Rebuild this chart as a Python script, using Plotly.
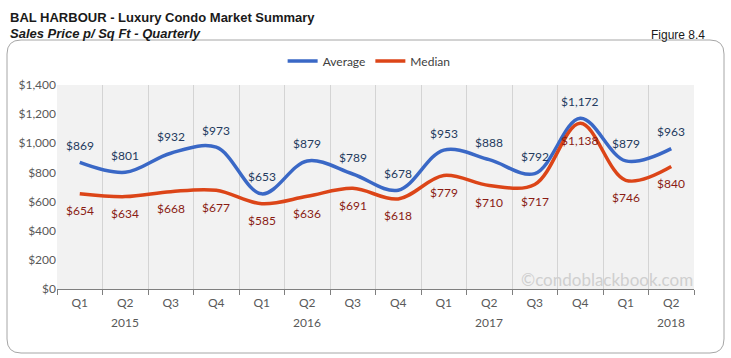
import plotly.graph_objects as go

quarters = ["Q1", "Q2", "Q3", "Q4", "Q1", "Q2", "Q3", "Q4", "Q1", "Q2", "Q3", "Q4", "Q1", "Q2"]
years = ["2015", "2016", "2017", "2018"]
year_pos = [1, 5, 9, 13]
average = [869, 801, 932, 973, 653, 879, 789, 678, 953, 888, 792, 1172, 879, 963]
median = [654, 634, 668, 677, 585, 636, 691, 618, 779, 710, 717, 1138, 746, 840]

W, H = 731, 358
L, R, T, B = 57, 694, 85, 289


def px(x):
    return (x - L) / (R - L)


def py(y):
    return (B - y) / (B - T)


xs = list(range(len(quarters)))
AVG_C = "#3a68c6"
MED_C = "#dc4518"

fig = go.Figure()
fig.add_trace(go.Scatter(x=xs, y=average, name="Average", mode="lines",
                         line=dict(color=AVG_C, width=3.5, shape="spline", smoothing=1.0)))
fig.add_trace(go.Scatter(x=xs, y=median, name="Median", mode="lines",
                         line=dict(color=MED_C, width=3.5, shape="spline", smoothing=1.0)))

ann = []
for i, v in enumerate(average):
    ann.append(dict(x=i, y=v, xref="x", yref="y", text=f"${v:,}", showarrow=False,
                    yshift=17, font=dict(family="Lato", size=12, color="#243a5e")))
for i, v in enumerate(median):
    ann.append(dict(x=i, y=v, xref="x", yref="y", text=f"${v:,}", showarrow=False,
                    yshift=-17, font=dict(family="Lato", size=12, color="#8a1c14")))
for yr, p in zip(years, year_pos):
    ann.append(dict(x=p, y=py(322), xref="x", yref="paper", text=yr, showarrow=False,
                    yanchor="middle", font=dict(family="Lato", size=12, color="#595959")))

ann.append(dict(x=px(8), y=py(17), xref="paper", yref="paper", xanchor="left", yanchor="middle",
                text="<b>BAL HARBOUR - Luxury Condo Market Summary</b>", showarrow=False,
                font=dict(family="Liberation Sans", size=13, color="#1a1a1a")))
ann.append(dict(x=px(8), y=py(33), xref="paper", yref="paper", xanchor="left", yanchor="middle",
                text="<b><i>Sales Price p/ Sq Ft - Quarterly</i></b>", showarrow=False,
                font=dict(family="Liberation Sans", size=13, color="#1a1a1a")))
ann.append(dict(x=px(707), y=py(35), xref="paper", yref="paper", xanchor="right", yanchor="middle",
                text="Figure 8.4", showarrow=False,
                font=dict(family="Liberation Sans", size=12, color="#1a1a1a")))
ann.append(dict(x=px(695), y=py(279), xref="paper", yref="paper", xanchor="right", yanchor="middle",
                text="©condoblackbook.com", showarrow=False,
                font=dict(family="Lato", size=17, color="#cfcfcf")))

# rounded border
x0, x1, y0, y1, r = 7, 724, 40, 353, 14
def P(x, y):
    return f"{px(x)},{py(y)}"
path = (f"M {P(x0 + r, y0)} L {P(x1 - r, y0)} Q {P(x1, y0)} {P(x1, y0 + r)} "
        f"L {P(x1, y1 - r)} Q {P(x1, y1)} {P(x1 - r, y1)} L {P(x0 + r, y1)} "
        f"Q {P(x0, y1)} {P(x0, y1 - r)} L {P(x0, y0 + r)} Q {P(x0, y0)} {P(x0 + r, y0)} Z")
shapes = [dict(type="path", xref="paper", yref="paper", path=path,
               line=dict(color="#a6a6a6", width=1), layer="below")]

fig.update_layout(
    width=W, height=H,
    margin=dict(l=L, r=W - R, t=T, b=H - B, pad=0),
    paper_bgcolor="white", plot_bgcolor="#f2f2f2",
    showlegend=True,
    legend=dict(orientation="h", x=0.49, xanchor="center", y=py(61), yanchor="middle",
                font=dict(family="Lato", size=12, color="#404040"), bgcolor="rgba(0,0,0,0)",
                itemwidth=30, tracegroupgap=0),
    annotations=ann, shapes=shapes,
    xaxis=dict(range=[-0.5, 13.5], tickmode="array", tickvals=xs, ticktext=quarters,
               ticks="", showgrid=False, showline=True, linecolor="#7f7f7f", linewidth=1,
               tickfont=dict(family="Lato", size=12, color="#595959"), zeroline=False,
               ticklabelstandoff=3,
               minor=dict(tick0=-0.5, dtick=1, ticks="outside", ticklen=5, tickcolor="#7f7f7f",
                          showgrid=True, gridcolor="#d4d4d4", gridwidth=1),
               fixedrange=True),
    yaxis=dict(range=[0, 1400], dtick=200, tickprefix="$", tickformat=",", showgrid=False,
               zeroline=False, showline=False, ticks="",
               tickfont=dict(family="Lato", size=12, color="#595959"), fixedrange=True),
)
fig.write_html("out.html", config={"displayModeBar": False},
               post_script="document.body.style.margin='0';document.body.style.overflow='hidden';")
